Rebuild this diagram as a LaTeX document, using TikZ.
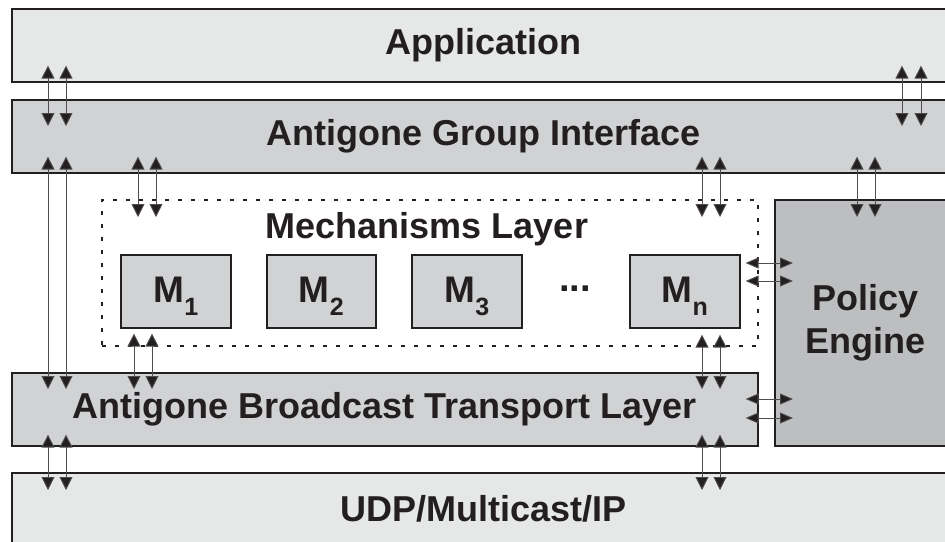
\documentclass[tikz,border=0pt]{standalone}
\usepackage{fontspec}
\setmainfont{Liberation Sans}
\usetikzlibrary{arrows.meta,calc}
\definecolor{ink}{HTML}{231F20}
\definecolor{paleg}{HTML}{E6E7E7}
\definecolor{midg}{HTML}{D1D2D4}
\definecolor{darkg}{HTML}{BDBEC0}
\newcommand{\Msub}[1]{M\raisebox{-13pt}{\fontsize{25}{25}\selectfont #1}}
\begin{document}
\begin{tikzpicture}[x=1pt,y=-1pt,
  layerbox/.style={draw=ink,line width=1.6pt,anchor=north west,inner sep=0pt,
    text=ink,font=\fontsize{36}{42}\selectfont\bfseries},
  mechbox/.style={layerbox,fill=midg,minimum width=110pt,minimum height=73pt},
  bi/.style={draw=ink!80,line width=0.9pt,
    {Triangle[width=13pt,length=13pt,fill=ink]}-{Triangle[width=13pt,length=13pt,fill=ink]}},
  bih/.style={draw=ink!80,line width=0.9pt,
    {Triangle[width=11pt,length=13pt,fill=ink]}-{Triangle[width=11pt,length=13pt,fill=ink]}}]
\useasboundingbox (0,0) rectangle (945,541);
\clip (0,0) rectangle (945,541);

% layers
\node[layerbox,fill=paleg,minimum width=944pt,minimum height=73pt] (app) at (11,8) {Application};
\node[layerbox,fill=midg,minimum width=944pt,minimum height=73pt] (agi) at (11,99) {Antigone Group Interface};
\node[draw=ink,line width=1.5pt,dash pattern=on 4pt off 9pt,anchor=north west,
  minimum width=656pt,minimum height=146pt,inner sep=0pt] (mech) at (101,199) {};
\node[text=ink,font=\fontsize{36}{42}\selectfont\bfseries] (mechlabel) at (427,229) {Mechanisms Layer};
\node[layerbox,fill=darkg,minimum width=181pt,minimum height=246pt,align=center,
  font=\fontsize{36}{43}\selectfont\bfseries] (pe) at (774,199) {Policy\\Engine};
\node[layerbox,fill=midg,minimum width=746pt,minimum height=73pt] (abtl) at (11,372) {Antigone Broadcast Transport Layer};
\node[layerbox,fill=paleg,minimum width=944pt,minimum height=73pt] (udp) at (11,472) {UDP/Multicast/IP};

% mechanisms
\node[mechbox,text depth=3pt,font=\fontsize{37}{42}\selectfont\bfseries] (m1) at (120,254) {\Msub{1}};
\node[mechbox,minimum width=109pt,text depth=3pt,font=\fontsize{37}{42}\selectfont\bfseries] (m2) at (266,254) {\Msub{2}};
\node[mechbox,text depth=3pt,font=\fontsize{37}{42}\selectfont\bfseries] (m3) at (411,254) {\Msub{3}};
\node[mechbox,text depth=3pt,font=\fontsize{37}{42}\selectfont\bfseries] (mn) at (629,254) {\Msub{n}};
\node[text=ink,font=\fontsize{38}{42}\selectfont\bfseries] (dots) at (575,289) {...};

% application <-> group interface
\foreach \dx in {37,55,891,910}
  \draw[bi] ($(app.south west)+(\dx,-17)$) -- ($(agi.north west)+(\dx,27)$);
% group interface <-> broadcast transport
\foreach \dx in {37,55}
  \draw[bi] ($(agi.south west)+(\dx,-17)$) -- ($(abtl.north west)+(\dx,17)$);
% group interface <-> mechanisms
\foreach \dx in {127,145,691,709}
  \draw[bi] ($(agi.south west)+(\dx,-17)$) -- ($(mech.north west)+(\dx-90,18)$);
% group interface <-> policy engine
\foreach \dx in {846,864}
  \draw[bi] ($(agi.south west)+(\dx,-17)$) -- ($(pe.north west)+(\dx-763,18)$);
% mechanisms <-> broadcast transport
\foreach \dx in {14,32}
  \draw[bi] ($(m1.south west)+(\dx,5)$) -- ($(abtl.north west)+(\dx+109,17)$);
\foreach \dx in {73,91}
  \draw[bi] ($(mn.south west)+(\dx,6)$) -- ($(abtl.north west)+(\dx+618,17)$);
% broadcast transport <-> UDP
\foreach \dx in {37,55,691,709}
  \draw[bi] ($(abtl.south west)+(\dx,-12)$) -- ($(udp.north west)+(\dx,18)$);
% policy engine links
\foreach \dy in {9,27}
  \draw[bih] ($(mn.north east)+(5,\dy)$) -- ($(pe.north west)+(19,\dy+55)$);
\foreach \dy in {27,46}
  \draw[bih] ($(abtl.north east)+(-13,\dy)$) -- ($(pe.north west)+(19,\dy+173)$);
\end{tikzpicture}
\end{document}
